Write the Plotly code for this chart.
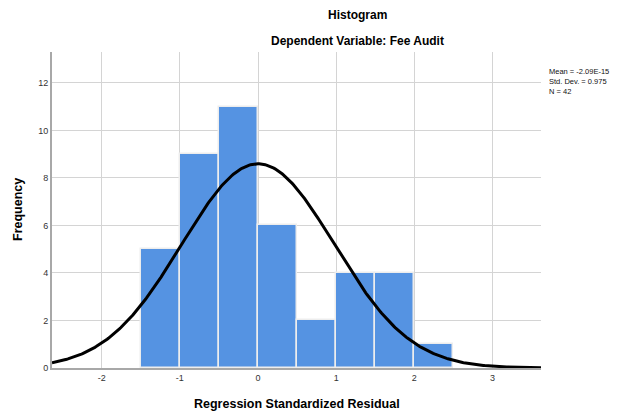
import numpy as np
import plotly.graph_objects as go

# Histogram data (bin edges with width 0.5)
bin_left = [-1.5, -1.0, -0.5, 0.0, 0.5, 1.0, 1.5, 2.0]
counts = [5, 9, 11, 6, 2, 4, 4, 1]
bin_width = 0.5

# Stated fit parameters (shown in the chart)
mean_val = -2.09e-15
std_dev = 0.975
n_obs = 42

x_ticks = [-2, -1, 0, 1, 2, 3]
y_ticks = [0, 2, 4, 6, 8, 10, 12]

x_range = [-2.635, 3.62]
y_range = [0, 13.3]

legend_lines = ["Mean = -2.09E-15", "Std. Dev. = 0.975", "N = 42"]

centers = [b + bin_width / 2 for b in bin_left]

xs = np.linspace(x_range[0], x_range[1], 400)
ys = n_obs * bin_width / (std_dev * np.sqrt(2 * np.pi)) * np.exp(-0.5 * ((xs - mean_val) / std_dev) ** 2)

fig = go.Figure()
fig.add_trace(go.Bar(
    x=centers, y=counts, width=bin_width,
    marker=dict(color="#5593E2", line=dict(color="#EDEDED", width=1.5)),
    hoverinfo="skip",
))
fig.add_trace(go.Scatter(
    x=xs, y=ys, mode="lines",
    line=dict(color="black", width=3), hoverinfo="skip",
))

font_main = "Liberation Sans, Arial, sans-serif"

fig.update_layout(
    width=621, height=412,
    margin=dict(l=52, r=80, t=52, b=44),
    paper_bgcolor="white", plot_bgcolor="white",
    showlegend=False,
    font=dict(family=font_main, size=9, color="#333333"),
    bargap=0,
    xaxis=dict(
        range=x_range, tickvals=x_ticks, ticktext=[str(v) for v in x_ticks],
        showgrid=True, gridcolor="#D4D4D4", gridwidth=1,
        zeroline=False, showline=True, linecolor="#A8A8A8", linewidth=2,
        ticks="", ticklen=0, tickfont=dict(size=9, color="#333333"),
        fixedrange=True,
    ),
    yaxis=dict(
        range=y_range, tickvals=y_ticks, ticktext=[str(v) for v in y_ticks],
        showgrid=True, gridcolor="#D4D4D4", gridwidth=1,
        zeroline=False, showline=True, linecolor="#A8A8A8", linewidth=2,
        ticks="", ticklen=0, tickfont=dict(size=9, color="#333333"),
        fixedrange=True,
    ),
)

ann = [
    dict(text="<b>Histogram</b>", x=(357 - 52) / 489, y=(368 - 15) / 316, font=dict(size=12, color="black")),
    dict(text="<b>Dependent Variable: Fee Audit</b>", x=(357 - 52) / 489, y=(368 - 41) / 316, font=dict(size=12, color="black")),
    dict(text="<b>Regression Standardized Residual</b>", x=(297 - 52) / 489, y=(368 - 404) / 316, font=dict(size=12.5, color="black")),
    dict(text="<b>Frequency</b>", x=(18 - 52) / 489, y=0.5, textangle=-90, font=dict(size=12.5, color="black")),
]
for a in ann:
    fig.add_annotation(xref="paper", yref="paper", showarrow=False,
                       xanchor="center", yanchor="middle", **a)

fig.add_annotation(xref="paper", yref="paper", showarrow=False,
                   x=(547 - 52) / 489, y=(368 - 82) / 316,
                   xanchor="left", yanchor="middle", align="left",
                   text="<br>".join(legend_lines),
                   font=dict(size=7.5, color="#111111"))

fig.write_html("out.html", config={"displayModeBar": False},
               post_script="document.body.style.margin='0';document.body.style.overflow='hidden';")
